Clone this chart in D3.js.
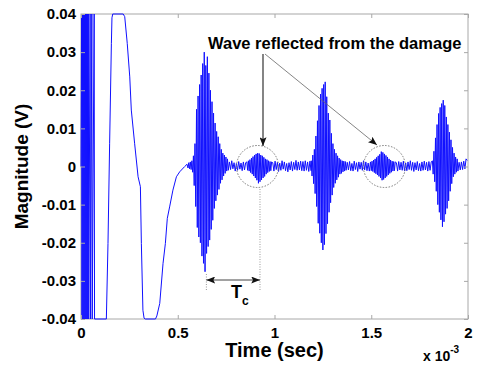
<!DOCTYPE html>
<html>
<head>
<meta charset="utf-8">
<script src="https://cdn.jsdelivr.net/npm/d3@7"></script>
<style>
  body { margin: 0; background: #fff; }
  svg text { font-family: "Liberation Sans", Arial, sans-serif; font-weight: bold; fill: #000; }
</style>
</head>
<body>
<figure id="chart" style="margin:0"></figure>
<script>
// Time is in units of 1e-3 sec (see the "x 10^-3" label)
const xTicks = [0, 0.5, 1, 1.5, 2];
const yTicks = [-0.04, -0.03, -0.02, -0.01, 0, 0.01, 0.02, 0.03, 0.04];

// Saturated excitation and the slow swing after it: [time, volts]
const startPoints = [
  [0, 0], [0.003, 0.04], [0.005, -0.04], [0.008, 0.04], [0.010, -0.04], [0.013, 0.04],
  [0.015, -0.04], [0.018, 0.04], [0.020, -0.04], [0.023, 0.04], [0.025, -0.04],
  [0.028, 0.04], [0.030, -0.04], [0.033, 0.04], [0.035, -0.04], [0.038, 0.04],
  [0.040, -0.04], [0.047, 0.04], [0.049, -0.04], [0.056, 0.04], [0.058, -0.04],
  [0.068, 0.04], [0.070, -0.04], [0.078, -0.04], [0.131, -0.04], [0.1395, -0.0202],
  [0.148, 0.0061], [0.157, 0.0323], [0.160, 0.039], [0.164, 0.04], [0.218, 0.04],
  [0.226, 0.0393], [0.239, 0.0323], [0.252, 0.0235], [0.260, 0.0148], [0.277, 0.0061],
  [0.295, -0.0027], [0.307, -0.0053], [0.312, -0.0202], [0.320, -0.0377], [0.326, -0.0398],
  [0.332, -0.04], [0.385, -0.04], [0.392, -0.0392], [0.407, -0.0359], [0.424, -0.0254],
  [0.436, -0.0202], [0.446, -0.0136], [0.458, -0.0106], [0.475, -0.0062], [0.493, -0.0027],
  [0.510, -0.0014], [0.536, 0.0000], [0.548, 0.0006]
];

// Sampled stretches of the signal (start time, sample step, values)
const echo1Start = 0.553, echo1Step = 0.004;
const echo1 = [-0.0004, 0.0010, -0.0006, 0.0012, -0.0008, 0.0015, -0.0015, 0.0028, -0.005,
  0.006, -0.0105, 0.015, -0.016, 0.0185, -0.0185, 0.0215, -0.02, 0.024, -0.0235, 0.027,
  -0.0254, 0.03, -0.0276, 0.0265, -0.0228, 0.0288, -0.021, 0.0245, -0.0193, 0.02, -0.0165,
  0.017, -0.0141, 0.014, -0.011, 0.0114, -0.009, 0.0092, -0.0075, 0.0078, -0.006, 0.006,
  -0.0044, 0.0045, -0.0035, 0.0035, -0.0025, 0.003, -0.0018, 0.0025, -0.0012, 0.002, -0.001];

const gap1Start = 0.767, gap1Step = 0.006;
const gap1 = [0.0012, -0.0008, 0.0015, -0.0006, 0.0010, -0.0012, 0.0008, -0.0010, 0.0013,
  -0.0007, 0.0009, -0.0011, 0.0012, -0.0009, 0.0010];

const damage1Start = 0.857, damage1Step = 0.004;
const damage1 = [0.0012, -0.0010, 0.0015, -0.0012, 0.0018, -0.0016, 0.0022, -0.0020, 0.0026,
  -0.0025, 0.0030, -0.0030, 0.0033, -0.0036, 0.0035, -0.0044, 0.0034, -0.0040, 0.0030,
  -0.0035, 0.0028, -0.0030, 0.0024, -0.0026, 0.0020, -0.0020, 0.0018, -0.0016, 0.0015,
  -0.0013, 0.0013, -0.0011, 0.0012];

const gap2Start = 0.991, gap2Step = 0.006;
const gap2 = [0.0010, -0.0012, 0.0014, -0.0008, 0.0011, -0.0013, 0.0009, -0.0010, 0.0015,
  -0.0007, 0.0012, -0.0011, 0.0008, -0.0014, 0.0010, -0.0009, 0.0013, -0.0012, 0.0011,
  -0.0008, 0.0016, -0.0010, 0.0012, -0.0009, 0.0014, -0.0011, 0.0013, -0.0012, 0.0015,
  -0.0010, 0.0012, -0.0013, 0.0014, -0.0011];

const echo2Start = 1.19, echo2Step = 0.004;
const echo2 = [0.0015, -0.0025, 0.0030, -0.0045, 0.0045, -0.0071, 0.0080, -0.0105, 0.0120,
  -0.0149, 0.0160, -0.0175, 0.0190, -0.0200, 0.0205, -0.0219, 0.0215, -0.0205, 0.0222,
  -0.0176, 0.0183, -0.0150, 0.0140, -0.0120, 0.0122, -0.0095, 0.0087, -0.0075, 0.0060,
  -0.0055, 0.0045, -0.0044, 0.0035, -0.0035, 0.0028, -0.0028, 0.0022, -0.0020, 0.0018,
  -0.0018, 0.0015, -0.0014, 0.0014, -0.0012, 0.0013, -0.0010];

const gap3Start = 1.376, gap3Step = 0.006;
const gap3 = [0.0011, -0.0009, 0.0013, -0.0011, 0.0008, -0.0012, 0.0014, -0.0008, 0.0010,
  -0.0013, 0.0012, -0.0007, 0.0011, -0.0010, 0.0015, -0.0009, 0.0012, -0.0011, 0.0009, -0.0012];

const damage2Start = 1.496, damage2Step = 0.004;
const damage2 = [0.0012, -0.0011, 0.0014, -0.0013, 0.0017, -0.0016, 0.0020, -0.0019, 0.0024,
  -0.0022, 0.0028, -0.0026, 0.0032, -0.0030, 0.0039, -0.0036, 0.0037, -0.0034, 0.0033,
  -0.0030, 0.0029, -0.0026, 0.0025, -0.0022, 0.0020, -0.0018, 0.0017, -0.0015, 0.0014,
  -0.0012, 0.0013, -0.0011, 0.0012];

const gap4Start = 1.630, gap4Step = 0.006;
const gap4 = [0.0010, -0.0012, 0.0013, -0.0009, 0.0011, -0.0010, 0.0014, -0.0012, 0.0009,
  -0.0011, 0.0012, -0.0008, 0.0015, -0.0010, 0.0011, -0.0013, 0.0010, -0.0009, 0.0013,
  -0.0011, 0.0008, -0.0012, 0.0012, -0.0010, 0.0014, -0.0009, 0.0011, -0.0012, 0.0013,
  -0.0010, 0.0012];

const echo3Start = 1.816, echo3Step = 0.004;
const echo3 = [0.0015, -0.0020, 0.0040, -0.0040, 0.0075, -0.0065, 0.0110, -0.0100, 0.0139,
  -0.0120, 0.0155, -0.0140, 0.0165, -0.0158, 0.0174, -0.0145, 0.0160, -0.0125, 0.0130,
  -0.0110, 0.0110, -0.0090, 0.0090, -0.0065, 0.0070, -0.0045, 0.0050, -0.0027, 0.0035,
  -0.0020, 0.0025, -0.0015, 0.0020, -0.0012];

const tailStart = 1.954, tailStep = 0.006;
const tail = [0.0011, -0.0009, 0.0012, -0.0008, 0.0014, -0.0006, 0.0020, 0.0016];

const title = "Wave reflected from the damage";

var width = 479;
var height = 368;

const x = d3.scaleLinear().domain([0, 2]).range([81, 468]);
const y = d3.scaleLinear().domain([-0.04, 0.04]).range([319, 14]);

// Joins the explicit points and the sampled stretches into one trace
const stretches = [
  [echo1Start, echo1Step, echo1], [gap1Start, gap1Step, gap1],
  [damage1Start, damage1Step, damage1], [gap2Start, gap2Step, gap2],
  [echo2Start, echo2Step, echo2], [gap3Start, gap3Step, gap3],
  [damage2Start, damage2Step, damage2], [gap4Start, gap4Step, gap4],
  [echo3Start, echo3Step, echo3], [tailStart, tailStep, tail]
];
const signal = startPoints.concat(
  ...stretches.map(([t0, dt, vals]) => vals.map((v, i) => [t0 + i * dt, v]))
);

const svg = d3.select("figure#chart")
  .append("svg")
  .attr("width", width)
  .attr("height", height);

svg.append("defs").append("marker")
  .attr("id", "head")
  .attr("viewBox", "0 -4 10 8")
  .attr("refX", 10)
  .attr("refY", 0)
  .attr("markerUnits", "userSpaceOnUse")
  .attr("markerWidth", 9)
  .attr("markerHeight", 7)
  .attr("orient", "auto-start-reverse")
  .append("path")
  .attr("fill", "#111")
  .attr("d", "M0,-4L10,0L0,4L2,0Z");

const grey = "#a8a8a8";

// Plot box
svg.append("rect")
  .attr("x", x(0)).attr("y", y(0.04))
  .attr("width", x(2) - x(0)).attr("height", y(-0.04) - y(0.04))
  .attr("fill", "none").attr("stroke", grey);

// Signal
svg.append("path")
  .datum(signal)
  .attr("fill", "none")
  .attr("stroke", "#1010ff")
  .attr("stroke-width", 1)
  .attr("d", d3.line().x(d => x(d[0])).y(d => y(d[1])));

// Axes, MATLAB style with inward ticks on all four sides
function styleAxis(g) {
  g.attr("font-family", "Liberation Sans, Arial, sans-serif")
    .attr("font-size", 15)
    .attr("font-weight", "bold");
  g.select(".domain").remove();
  g.selectAll(".tick line").attr("stroke", grey);
  g.selectAll(".tick text").attr("fill", "#000");
}

svg.append("g")
  .attr("transform", `translate(0,${y(-0.04)})`)
  .call(d3.axisBottom(x).tickValues(xTicks).tickSizeInner(-4).tickSizeOuter(0)
    .tickPadding(8).tickFormat(d => String(d)))
  .call(styleAxis);

svg.append("g")
  .attr("transform", `translate(0,${y(0.04)})`)
  .call(d3.axisTop(x).tickValues(xTicks).tickSizeInner(-4).tickSizeOuter(0).tickFormat(""))
  .call(styleAxis);

svg.append("g")
  .attr("transform", `translate(${x(0)},0)`)
  .call(d3.axisLeft(y).tickValues(yTicks).tickSizeInner(-4).tickSizeOuter(0)
    .tickPadding(5).tickFormat(d => d === 0 ? "0" : d.toFixed(2)))
  .call(styleAxis);

svg.append("g")
  .attr("transform", `translate(${x(2)},0)`)
  .call(d3.axisRight(y).tickValues(yTicks).tickSizeInner(-4).tickSizeOuter(0).tickFormat(""))
  .call(styleAxis);

// Axis titles
svg.append("text")
  .attr("x", (x(0) + x(2)) / 2)
  .attr("y", 357)
  .attr("text-anchor", "middle")
  .attr("font-size", 20)
  .text("Time (sec)");

svg.append("text")
  .attr("transform", `translate(28,${y(0)}) rotate(-90)`)
  .attr("text-anchor", "middle")
  .attr("font-size", 19)
  .text("Magnitude (V)");

const expo = svg.append("text")
  .attr("x", 423)
  .attr("y", 361)
  .attr("font-size", 14);
expo.append("tspan").text("x 10");
expo.append("tspan").attr("dy", -8).attr("font-size", 10).text("-3");

// Damage annotation: dotted circles and pointers
const circles = [0.912, 1.568];
svg.append("g")
  .selectAll("circle")
  .data(circles)
  .join("circle")
  .attr("cx", d => x(d))
  .attr("cy", y(0))
  .attr("r", 21)
  .attr("fill", "none")
  .attr("stroke", "#777")
  .attr("stroke-width", 1)
  .attr("stroke-dasharray", "1.5,1.5");

svg.append("text")
  .attr("x", 208)
  .attr("y", 49)
  .attr("font-size", 16.5)
  .text(title);

svg.append("line")
  .attr("x1", 263).attr("y1", 54).attr("x2", 263).attr("y2", 146)
  .attr("stroke", "#333").attr("stroke-width", 1.2)
  .attr("marker-end", "url(#head)");

svg.append("line")
  .attr("x1", 265).attr("y1", 54).attr("x2", 377).attr("y2", 145)
  .attr("stroke", "#666").attr("stroke-width", 0.8)
  .attr("marker-end", "url(#head)");

// T_c span between the first echo and the damage echo
const tc = [0.648, 0.925];
svg.append("g")
  .selectAll("line")
  .data([[tc[0], 274], [tc[1], 189]])
  .join("line")
  .attr("x1", d => x(d[0])).attr("x2", d => x(d[0]))
  .attr("y1", d => d[1]).attr("y2", 291)
  .attr("stroke", "#999")
  .attr("stroke-dasharray", "1,1.5");

svg.append("line")
  .attr("x1", x(tc[0])).attr("x2", x(tc[1]))
  .attr("y1", 280).attr("y2", 280)
  .attr("stroke", "#444").attr("stroke-width", 1)
  .attr("marker-start", "url(#head)")
  .attr("marker-end", "url(#head)");

const tcLabel = svg.append("text")
  .attr("x", 231)
  .attr("y", 298)
  .attr("font-size", 18);
tcLabel.append("tspan").text("T");
tcLabel.append("tspan").attr("dy", 7).attr("font-size", 12).text("c");
</script>
</body>
</html>
